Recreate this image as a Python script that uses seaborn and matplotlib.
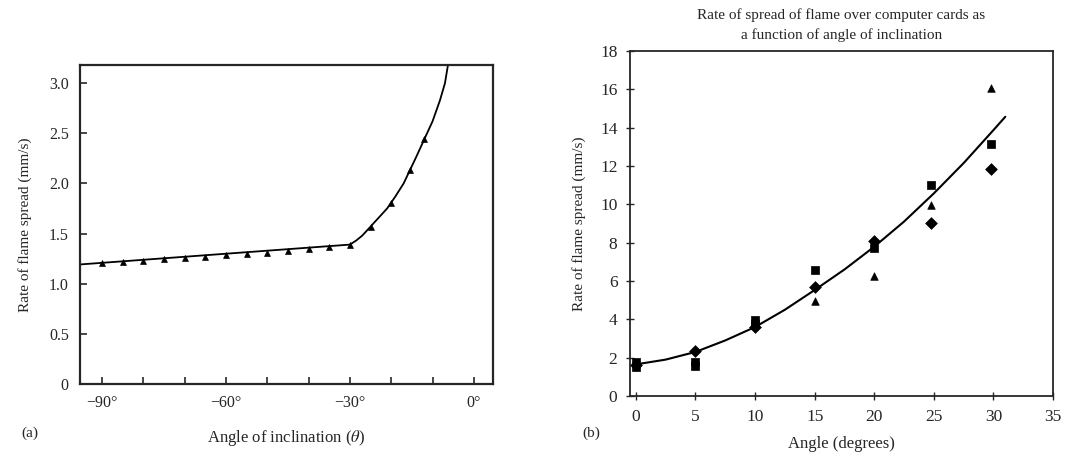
import numpy as np
import pandas as pd
import matplotlib
matplotlib.use('Agg')
import matplotlib.pyplot as plt
import seaborn as sns

# (a) flame spread vs angle of inclination, downward tilt
angle_a = [-90, -85, -80, -75, -70, -65, -60, -55, -50, -45, -40, -35, -30,
           -25, -20, -15.5, -12]
rate_a = [1.205, 1.22, 1.23, 1.245, 1.26, 1.27, 1.29, 1.30, 1.31, 1.33, 1.345,
          1.37, 1.39, 1.57, 1.80, 2.13, 2.44]
curve_a_x = [-96, -30, -28.5, -27, -25, -23, -21, -19, -17, -15.5, -14, -12,
             -10, -8.2, -7, -6.2]
curve_a_y = [1.19, 1.39, 1.43, 1.48, 1.57, 1.66, 1.75, 1.87, 2.00, 2.13, 2.26,
             2.44, 2.62, 2.83, 3.0, 3.2]

# (b) computer cards, three runs
sq_x = [0, 0, 5, 5, 10, 10, 15, 20, 24.8, 29.8]
sq_y = [1.8, 1.5, 1.8, 1.55, 3.95, 3.75, 6.6, 7.7, 11.0, 13.15]
di_x = [0, 5, 10, 15, 20, 24.8, 29.8]
di_y = [1.6, 2.35, 3.6, 5.7, 8.1, 9.05, 11.85]
tr_x = [15, 20, 24.8, 29.8]
tr_y = [4.95, 6.25, 9.95, 16.05]
curve_b_x = [0, 2.5, 5, 7.5, 10, 12.5, 15, 17.5, 20, 22.5, 25, 27.5, 30, 31]
curve_b_y = [1.65, 1.9, 2.3, 2.9, 3.6, 4.5, 5.53, 6.6, 7.79, 9.1, 10.57,
             12.15, 13.87, 14.57]

sns.set_style('ticks')
plt.rcParams['font.family'] = ['Liberation Serif', 'DejaVu Serif']
plt.rcParams['mathtext.fontset'] = 'stix'

fig = plt.figure(figsize=(10.69, 4.53), dpi=100)
ax1 = fig.add_axes([0.0748, 0.1523, 0.3863, 0.704])
ax2 = fig.add_axes([0.5893, 0.1258, 0.3957, 0.7616])

# panel (a)
sns.lineplot(x=curve_a_x, y=curve_a_y, ax=ax1, color='black', lw=1.3, sort=False)
sns.scatterplot(x=angle_a, y=rate_a, ax=ax1, marker='^', color='black', s=18,
                edgecolor='black', linewidth=0.5, zorder=3)
ax1.set_xlim(-95.3, 4.6)
ax1.set_ylim(0, 3.18)
ax1.set_xticks(np.arange(-90, 1, 10))
ax1.set_xticklabels(['\u221290\u00b0', '', '', '\u221260\u00b0', '', '',
                     '\u221230\u00b0', '', '', '0\u00b0'])
ax1.set_yticks(np.arange(0, 3.01, 0.5))
ax1.set_yticklabels(['0', '0.5', '1.0', '1.5', '2.0', '2.5', '3.0'])
ax1.tick_params(direction='in', length=5, width=1.2, labelsize=11.5, pad=8)
for s in ax1.spines.values():
    s.set_linewidth(1.6)
ax1.set_xlabel('Angle of inclination ($\\theta$)', fontsize=12, labelpad=12)
ax1.set_ylabel('Rate of flame spread (mm/s)', fontsize=11, labelpad=12)
fig.text(0.02, 0.035, '(a)', fontsize=11)

# panel (b)
sns.lineplot(x=curve_b_x, y=curve_b_y, ax=ax2, color='black', lw=1.5, sort=False)
sns.scatterplot(x=sq_x, y=sq_y, ax=ax2, marker='s', color='black', s=40,
                edgecolor='black', zorder=3)
sns.scatterplot(x=di_x, y=di_y, ax=ax2, marker='D', color='black', s=36,
                edgecolor='black', zorder=3)
sns.scatterplot(x=tr_x, y=tr_y, ax=ax2, marker='^', color='black', s=30,
                edgecolor='black', zorder=3)
ax2.set_xlim(-0.5, 35)
ax2.set_ylim(0, 18)
ax2.set_xticks(np.arange(0, 36, 5))
ax2.set_yticks(np.arange(0, 19, 2))
ax2.tick_params(direction='inout', length=6, width=1.0, labelsize=12.5, pad=6)
for s in ax2.spines.values():
    s.set_linewidth(1.3)
ax2.set_xlabel('Angle (degrees)', fontsize=12, labelpad=8)
ax2.set_ylabel('Rate of flame spread (mm/s)', fontsize=11, labelpad=10)
ax2.set_title('Rate of spread of flame over computer cards as\n'
              'a function of angle of inclination', fontsize=11, pad=9,
              linespacing=1.5)
fig.text(0.545, 0.035, '(b)', fontsize=11)

fig.savefig('out.png', dpi=100)
